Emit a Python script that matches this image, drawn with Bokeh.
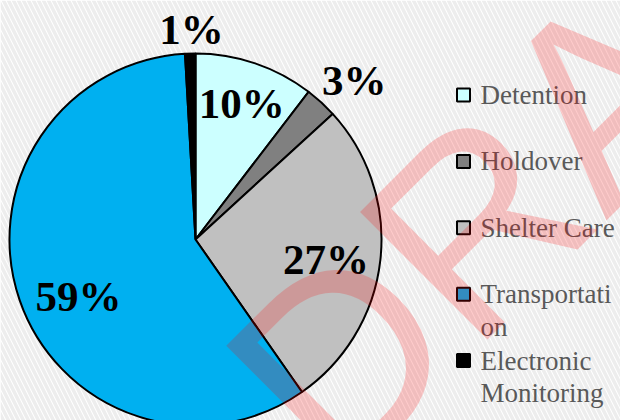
import numpy as np
from bokeh.plotting import figure
from bokeh.models import Range1d, Label, ColumnDataSource
from bokeh.core.properties import value
from bokeh.embed import file_html
from bokeh.resources import INLINE

# ---- data ----
categories = ["Detention", "Holdover", "Shelter Care", "Transportation", "Electronic Monitoring"]
shares = [10.4, 2.8, 27.1, 58.8, 0.9]
colors = ["#CCFFFF", "#808080", "#C0C0C0", "#00B0F0", "#000000"]
legend_lines = [["Detention"], ["Holdover"], ["Shelter Care"], ["Transportati", "on"], ["Electronic", "Monitoring"]]
watermark = "DRAFT"

# ---- layout / style ----
W, H = 620, 420
CX, CY, R = 195, H - 239, 186
label_rfac = [0.774, 1.21, 0.71, 0.70, 1.13]
label_dang = [0.0, -2.4, -2.4, 6.9, -0.5]

p = figure(width=W, height=H, x_range=Range1d(0, W), y_range=Range1d(0, H),
           output_backend="svg", toolbar_location=None, min_border=0,
           x_axis_location=None, y_axis_location=None)
p.grid.visible = False
p.outline_line_color = None
p.background_fill_color = "white"
p.border_fill_color = "white"

# striped background
p.quad(left=[0], right=[W], bottom=[0], top=[H], fill_color="white", line_color=None,
       hatch_pattern="\\", hatch_color="#ededed", hatch_scale=10, hatch_weight=3.5)

# pie
frac = np.array(shares) / sum(shares)
cum = np.concatenate([[0.0], np.cumsum(frac)])
start = np.pi / 2 - cum[:-1] * 2 * np.pi
end = np.pi / 2 - cum[1:] * 2 * np.pi
src = ColumnDataSource(dict(start=start, end=end, color=colors, cat=categories))
p.wedge(x=CX, y=CY, radius=R, start_angle="start", end_angle="end", direction="clock",
        fill_color="color", line_color="black", line_width=2, source=src)

# data labels
mid = (start + end) / 2 + np.deg2rad(label_dang)
lx = CX + np.array(label_rfac) * R * np.cos(mid)
ly = CY + np.array(label_rfac) * R * np.sin(mid)
ltxt = [f"{round(s)}%" for s in shares]
p.text(x=lx, y=ly, text=ltxt, text_font=value("Liberation Serif"), text_font_style="bold",
       text_font_size="43px", text_color="black", text_align="center", text_baseline="middle")

# legend (manual)
row0, row_step, line_step = 94.5, 66.4, 32.5
mk_y = [H - (row0 + i * row_step) for i in range(len(categories))]
p.rect(x=[463] * len(categories), y=mk_y, width=13, height=13, fill_color=colors,
       line_color="black", line_width=2)
tx, ty, tt = [], [], []
for i, lines in enumerate(legend_lines):
    for j, ln in enumerate(lines):
        tx.append(480)
        ty.append(mk_y[i] - j * line_step)
        tt.append(ln)
p.text(x=tx, y=ty, text=tt, text_font=value("Liberation Serif"), text_font_size="27px",
       text_color="#595959", text_align="left", text_baseline="middle")

# watermark
p.add_layout(Label(x=274, y=H - 424, text=watermark, angle=np.deg2rad(45),
                   text_color="red", text_alpha=0.2, text_font="Liberation Sans",
                   text_font_size="262px", text_align="left", text_baseline="middle"))

open("out.html", "w").write(file_html(p, INLINE))
